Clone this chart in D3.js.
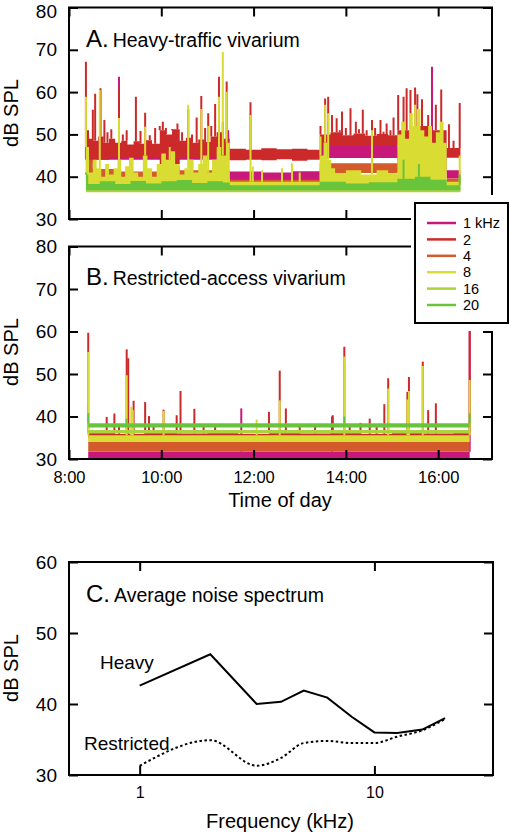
<!DOCTYPE html>
<html><head><meta charset="utf-8">
<script src="https://cdn.jsdelivr.net/npm/d3@7"></script>
<style>
body{margin:0;background:#fff}
svg{display:block}
text{font-family:"Liberation Sans",Arial,Helvetica,sans-serif;fill:#000}
</style>
</head><body>
<svg id="c" width="511" height="832"></svg>
<script>
// ---------------- data ----------------
const freqNames = ["1 kHz","2","4","8","16","20"];
const colors = ["#c8187a","#cc2a2a","#d45a2c","#d9dc32","#acd23e","#68c43a"];
const timeTickLabels = ["8:00","10:00","12:00","14:00","16:00"];
const dbTicksAB = [30,40,50,60,70,80];
const dbTicksC = [30,40,50,60];
const freqTicks = [1,10];

// Panel A: bands [time, low dB, high dB] (step after), spikes [time, peak dB]
const bandA_1k = [["8:22",44.0,46.0],["11:29",38.8,41.2],["12:10",38.9,41.0],["12:50",38.8,41.3],["13:26",44.4,47.5],["15:07",44.0,47.0],["16:11",39.6,41.5],["16:29",39.6,41.5]];
const bandA_2k = [["8:22",41.0,51.0],["8:26",43.5,49.0],["8:31",44.0,48.5],["8:38",44.0,49.5],["8:45",44.0,48.0],["8:52",44.5,49.0],["9:00",44.5,48.0],["9:08",44.5,48.5],["9:16",44.5,47.6],["9:24",44.5,48.4],["9:32",44.5,47.8],["9:40",44.5,48.6],["9:48",44.5,47.8],["9:58",43.0,51.0],["10:06",42.0,50.0],["10:14",43.0,51.2],["10:24",44.5,48.5],["10:32",44.5,49.2],["10:40",44.5,48.0],["10:48",44.5,48.8],["10:56",44.5,48.2],["11:04",44.5,49.5],["11:12",45.0,50.5],["11:20",45.0,49.0],["11:29",43.9,46.6],["11:50",44.0,46.4],["12:10",43.9,46.7],["12:30",44.1,46.5],["12:50",43.8,46.6],["13:10",44.0,46.4],["13:26",47.5,50.0],["13:40",47.5,50.5],["13:55",47.5,49.8],["14:10",47.5,50.2],["14:25",47.5,49.7],["14:40",47.5,50.1],["14:55",47.5,49.8],["15:07",47.0,51.0],["15:30",47.0,52.0],["15:50",47.0,51.0],["16:11",44.5,46.8],["16:29",44.5,46.8]];
const bandA_4k = [["8:22",39.5,44.0],["8:31",39.5,41.8],["9:04",39.5,41.2],["9:58",40.0,42.5],["10:24",39.5,41.5],["11:29",38.3,39.3],["13:26",40.9,43.2],["15:07",41.0,44.0],["16:11",38.6,39.6],["16:29",38.6,39.6]];
const bandA_8k = [["8:22",37.5,47],["8:26",37.5,41],["8:31",37.5,44],["8:36",37.5,42],["8:42",37.5,40],["8:47",37.5,43],["8:52",37.5,40.5],["8:58",37.5,42],["9:03",37.5,44],["9:08",37.5,40],["9:13",37.5,42.5],["9:18",37.5,44.5],["9:24",37.5,41],["9:30",37.5,40],["9:36",37.5,45],["9:42",37.5,42],["9:48",37.5,40],["9:54",37.5,43],["10:00",37.5,45.5],["10:06",37.5,44],["10:12",37.5,46],["10:18",37.5,43],["10:24",37.5,40.5],["10:30",37.5,42],["10:36",37.5,44],["10:42",37.5,41],["10:48",37.5,43],["10:54",37.5,45],["11:00",37.5,41],["11:06",37.5,44],["11:12",37.5,47],["11:18",37.5,45],["11:24",37.5,48],["11:29",37.5,38.8],["13:26",37.8,45],["13:31",38,48],["13:36",38,44],["13:41",38,42],["13:46",38,40.9],["14:00",38,41.5],["14:20",38,40.5],["14:40",38,41.5],["14:55",38,40.8],["15:07",38,50],["15:12",38,53],["15:17",38,49],["15:22",38,55],["15:27",38,52],["15:32",38,56],["15:37",38,51],["15:42",38,49.5],["15:47",38,52],["15:52",38,48],["15:57",38,50.5],["16:02",38,53],["16:07",38,48],["16:11",37.6,38.8],["16:29",37.6,38.8]];
const bandA_16k = [["8:22",36.3,37.6],["11:29",36.3,37.3],["13:26",36.3,37.6],["16:11",36.3,37.3],["16:29",36.3,37.3]];
const bandA_20k = [["8:22",36.8,40.5],["8:25",36.8,38.3],["8:40",36.8,38.9],["9:00",36.8,38.3],["9:20",36.8,39.0],["9:40",36.8,38.4],["10:00",36.8,38.9],["10:20",36.8,39.2],["10:40",36.8,38.5],["11:00",36.8,38.9],["11:20",36.8,38.6],["11:29",36.8,38.0],["13:26",36.8,38.8],["14:00",36.8,38.4],["14:30",36.8,38.7],["15:07",36.8,39.5],["15:30",36.8,40.0],["15:50",36.8,39.3],["16:11",36.8,38.0],["16:29",36.8,38.0]];

const spikesA_1k = [["9:05",63.6],["11:27",51.0],["15:52",66.0]];
const spikesA_2k = [["8:22",67.2],["8:31",55.8],["8:34",59.6],["8:41",60.9],["8:46",53.4],["8:50",50.5],["8:55",51.2],["9:05",61.0],["9:10",50.0],["9:15",51.0],["9:27",58.9],["9:33",50.8],["9:39",55.1],["9:45",49.8],["9:52",51.5],["9:58",52.0],["10:02",53.0],["10:06",51.5],["10:14",51.0],["10:21",52.6],["10:27",50.5],["10:35",56.0],["10:40",50.0],["10:46",54.0],["10:52",59.1],["10:57",51.5],["11:01",55.0],["11:05",52.0],["11:10",57.2],["11:15",63.6],["11:20",53.0],["11:25",62.5],["11:56",57.6],["13:27",52.0],["13:33",58.5],["13:37",58.9],["13:42",54.6],["13:48",53.8],["13:52",51.0],["13:55",55.4],["14:00",51.5],["14:06",56.2],["14:13",53.0],["14:17",51.2],["14:22",55.8],["14:27",51.0],["14:34",53.4],["14:38",51.5],["14:45",53.4],["14:49",50.6],["14:53",52.6],["14:58",51.0],["15:02",54.0],["15:08",59.3],["15:15",58.9],["15:19",60.9],["15:24",60.5],["15:30",61.1],["15:33",59.5],["15:39",58.3],["15:47",54.6],["15:57",57.0],["16:04",60.6],["16:14",52.4],["16:20",48.5],["16:28",57.4]];
const spikesA_4k = [["8:22",50.5]];
const spikesA_8k = [["8:22",58.9],["8:40",60.5],["9:05",53.9],["9:39",51.8],["10:11",47.0],["10:35",57.0],["10:52",56.0],["11:01",52.0],["11:15",58.9],["11:20",69.5],["11:25",60.1],["11:56",54.6],["11:59",42.4],["12:11",41.5],["12:37",42.0],["12:50",43.2],["13:00",41.0],["13:27",49.5],["13:33",57.0],["13:37",55.0],["14:34",51.0],["15:30",57.0],["16:28",45.0]];
const spikesA_16k = [];
const spikesA_20k = [["8:22",41.0],["15:15",44.0],["15:35",43.0],["16:28",40.5]];

// Panel B
const bandB_1k = [["8:25",30.0,31.7],["16:41",30.0,31.7]];
const bandB_2k = [["8:25",34.8,36.2],["9:00",34.8,35.9],["9:40",34.8,36.3],["10:20",34.8,36.0],["11:00",34.8,36.4],["11:40",34.8,35.9],["12:20",34.8,36.2],["13:00",34.8,36.0],["13:40",34.8,36.3],["14:20",34.8,35.9],["15:00",34.8,36.2],["15:40",34.8,36.0],["16:20",34.8,36.3],["16:41",34.8,36.3]];
const bandB_4k = [["8:25",31.7,34.0],["16:41",31.7,34.0]];
const bandB_8k = [["8:25",34.0,35.6],["16:41",34.0,35.6]];
const bandB_16k = [["8:25",36.0,36.8],["16:41",36.0,36.8]];
const bandB_20k = [["8:25",37.4,38.4],["16:41",37.4,38.4]];

const spikesB_1k = [["11:44",41.9],["13:42",40.0],["16:41",60.3]];
const spikesB_2k = [["8:25",59.7],["8:49",39.9],["8:59",40.7],["9:05",38.0],["9:15",55.8],["9:17",53.7],["9:24",43.7],["9:39",43.4],["9:44",40.1],["9:50",37.8],["10:03",41.6],["10:20",40.3],["10:25",46.0],["10:43",41.8],["10:55",37.6],["11:10",37.7],["12:20",41.1],["12:34",50.8],["12:42",41.9],["13:00",37.8],["13:20",37.6],["13:43",40.3],["13:58",56.4],["14:05",37.8],["14:19",38.5],["14:31",39.5],["14:40",37.9],["14:50",42.9],["14:55",49.0],["15:20",45.8],["15:22",49.3],["15:40",52.9],["15:47",41.5],["15:57",43.1],["16:41",60.0]];
const spikesB_4k = [];
const spikesB_8k = [["8:25",55.2],["9:15",49.7],["9:21",42.3],["9:23",41.5],["10:03",41.3],["12:04",39.3],["12:34",43.8],["13:58",54.1],["14:55",46.6],["15:20",44.0],["15:22",46.0],["15:40",51.9],["16:41",48.6]];
const spikesB_16k = [];
const spikesB_20k = [["8:25",40.8],["9:15",39.5],["13:58",40.0],["16:41",40.8]];

// Panel C: average noise spectrum
const freqC = [1, 2, 3.15, 4, 5, 6.3, 8, 10, 12.5, 16, 20];
const heavyC = [42.6, 47.0, 40.0, 40.3, 41.9, 40.9, 38.2, 36.0, 35.9, 36.4, 38.0];
const restrictedC = [31.3, 34.9, 31.3, 32.4, 34.5, 34.8, 34.5, 34.5, 35.4, 36.3, 37.9];

// ---------------- drawing ----------------
const svg = d3.select("#c");
const parseT = d3.timeParse("%H:%M");
const T = s => parseT(s);

const L = 69, R = 492;
const xT = d3.scaleTime().domain([T("8:00"), T("17:10")]).range([L, R]);
const yA = d3.scaleLinear().domain([30, 80]).range([219, 7.5]);
const yB = d3.scaleLinear().domain([30, 80]).range([459, 246.5]);
const xC = d3.scaleLog().domain([0.5, 32]).range([L, 493]);
const yC = d3.scaleLinear().domain([30, 60]).range([775, 562]);

const TICK = 9;

function axes(x, y, yTicks, xTicks, showXLabels, xFmt, xFont, rightEdge) {
  const r = rightEdge;
  const gl = svg.append("g").attr("transform", `translate(${L},0)`)
    .call(d3.axisLeft(y).tickValues(yTicks).tickSize(-TICK).tickPadding(12).tickFormat(d3.format("d")));
  gl.select(".domain").remove();
  gl.selectAll("line").attr("stroke-width", 2);
  gl.selectAll("text").style("font-size", "19px").attr("font-family", null);
  const gr = svg.append("g").attr("transform", `translate(${r},0)`)
    .call(d3.axisRight(y).tickValues(yTicks).tickSize(-TICK).tickFormat(""));
  gr.select(".domain").remove();
  gr.selectAll("line").attr("stroke-width", 2);
  const gt = svg.append("g").attr("transform", `translate(0,${y.range()[1]})`)
    .call(d3.axisTop(x).tickValues(xTicks).tickSize(-TICK).tickFormat(""));
  gt.select(".domain").remove();
  gt.selectAll("line").attr("stroke-width", 2);
  const gb = svg.append("g").attr("transform", `translate(0,${y.range()[0]})`)
    .call(d3.axisBottom(x).tickValues(xTicks).tickSize(-TICK).tickPadding(12).tickFormat(showXLabels ? xFmt : ""));
  gb.select(".domain").remove();
  gb.selectAll("line").attr("stroke-width", 2);
  gb.selectAll("text").style("font-size", xFont).attr("font-family", null);
  svg.append("rect").attr("x", L).attr("y", y.range()[1])
    .attr("width", r - L).attr("height", y.range()[0] - y.range()[1])
    .attr("fill", "none").attr("stroke", "#000").attr("stroke-width", 2);
  return gl;
}

function drawTraces(y, bands, spikes, id) {
  svg.append("clipPath").attr("id", id).append("rect")
    .attr("x", L).attr("y", y.range()[1]).attr("width", R - L).attr("height", y.range()[0] - y.range()[1]);
  const g = svg.append("g").attr("clip-path", `url(#${id})`);
  const bis = d3.bisector(d => T(d[0])).right;
  bands.forEach((band, i) => {
    const area = d3.area()
      .x(d => xT(T(d[0]))).y0(d => y(d[1])).y1(d => y(d[2]))
      .curve(d3.curveStepAfter);
    g.append("path").datum(band).attr("d", area).attr("fill", colors[i]);
    spikes[i].forEach(s => {
      const t = T(s[0]);
      const k = Math.max(0, bis(band, t) - 1);
      const base = band[k][2];
      g.append("line").attr("x1", xT(t)).attr("x2", xT(t))
        .attr("y1", y(base)).attr("y2", y(s[1]))
        .attr("stroke", colors[i]).attr("stroke-width", 2);
    });
  });
}

function ylabel(yc) {
  svg.append("text").attr("transform", `translate(18,${yc}) rotate(-90)`)
    .attr("text-anchor", "middle").style("font-size", "20px").text("dB SPL");
}
function title(letter, txt, yb) {
  const t = svg.append("text").attr("x", 86).attr("y", yb);
  t.append("tspan").style("font-size", "24px").text(letter);
  t.append("tspan").attr("dx", 4).style("font-size", "19.5px").text(txt);
}

const timeTickVals = timeTickLabels.map(T);
const fmtT = d3.timeFormat("%-H:%M");

// Panel A
drawTraces(yA, [bandA_1k, bandA_2k, bandA_4k, bandA_8k, bandA_16k, bandA_20k],
  [spikesA_1k, spikesA_2k, spikesA_4k, spikesA_8k, spikesA_16k, spikesA_20k], "clipA");
const glA = axes(xT, yA, dbTicksAB, timeTickVals, false, fmtT, "16.5px", R);
// keep the top label "80" inside the picture
glA.selectAll("text").filter(d => d === 80).attr("dy", "0.5em");
ylabel(113);
title("A.", "Heavy-traffic vivarium", 47);

// Panel B
drawTraces(yB, [bandB_1k, bandB_2k, bandB_4k, bandB_8k, bandB_16k, bandB_20k],
  [spikesB_1k, spikesB_2k, spikesB_4k, spikesB_8k, spikesB_16k, spikesB_20k], "clipB");
axes(xT, yB, dbTicksAB, timeTickVals, true, fmtT, "16.5px", R);
ylabel(352);
title("B.", "Restricted-access vivarium", 285);
svg.append("text").attr("x", 280).attr("y", 507).attr("text-anchor", "middle")
  .style("font-size", "20px").text("Time of day");

// Panel C
svg.append("clipPath").attr("id", "clipC").append("rect")
  .attr("x", L).attr("y", 562).attr("width", 493 - L).attr("height", 213);
const gc = svg.append("g").attr("clip-path", "url(#clipC)");
const lineH = d3.line().x((d, i) => xC(freqC[i])).y(d => yC(d));
gc.append("path").datum(heavyC).attr("d", lineH).attr("fill", "none")
  .attr("stroke", "#000").attr("stroke-width", 2);
const lineR = d3.line().x((d, i) => xC(freqC[i])).y(d => yC(d)).curve(d3.curveMonotoneX);
gc.append("path").datum(restrictedC).attr("d", lineR).attr("fill", "none")
  .attr("stroke", "#000").attr("stroke-width", 2).attr("stroke-dasharray", "2.5,2.5");
axes(xC, yC, dbTicksC, freqTicks, true, d3.format("d"), "16px", 493);
ylabel(668);
title("C.", "Average noise spectrum", 602);
svg.append("text").attr("x", 100).attr("y", 669).style("font-size", "19px").text("Heavy");
svg.append("text").attr("x", 84).attr("y", 750).style("font-size", "19px").text("Restricted");
svg.append("text").attr("x", 280).attr("y", 828).attr("text-anchor", "middle")
  .style("font-size", "20px").text("Frequency (kHz)");

// Legend
svg.append("rect").attr("x", 411).attr("y", 195).attr("width", 100).attr("height", 136).attr("fill", "#fff");
svg.append("rect").attr("x", 415).attr("y", 203).attr("width", 93).attr("height", 120)
  .attr("fill", "#fff").attr("stroke", "#000").attr("stroke-width", 2);
const rowY = d3.scalePoint().domain(freqNames).range([223, 305]);
const lg = svg.append("g");
freqNames.forEach((n, i) => {
  lg.append("line").attr("x1", 427).attr("x2", 456).attr("y1", rowY(n)).attr("y2", rowY(n))
    .attr("stroke", colors[i]).attr("stroke-width", 2.5);
  lg.append("text").attr("x", 463).attr("y", rowY(n)).attr("dy", "0.36em")
    .style("font-size", "14.5px").text(n);
});
</script>
</body></html>
